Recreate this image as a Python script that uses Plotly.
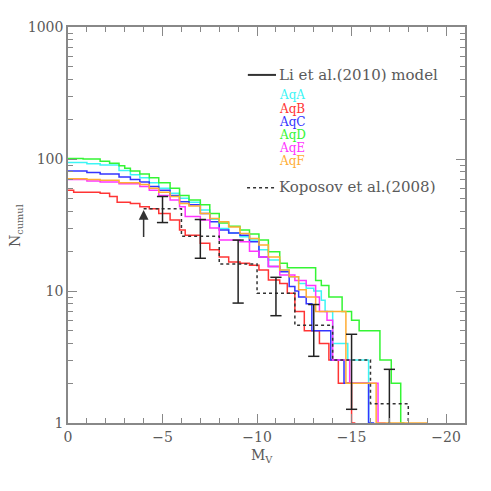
import math

import plotly.graph_objects as go

# Li et al. (2010) model curves: cumulative counts vs absolute magnitude (step points)
aqa_mv = [0, -1.0, -1.7, -2.7, -3.3, -3.8, -4.3, -4.8, -5.4, -5.9, -6.4, -7.0, -7.5, -8.0, -8.5,
          -9.1, -9.6, -10.1, -10.6, -11.2, -11.7, -12.2, -12.6, -13.0, -13.4, -13.6, -14.0, -14.8,
          -15.9, -16.1]
aqa_n = [94, 92, 90, 82, 76, 72, 66, 60, 55, 50.5, 47, 41, 35, 29.8, 27.5,
         25.8, 24.3, 20.5, 17.2, 14.4, 12.8, 11.4, 10.5, 10, 8.5, 7, 4, 3,
         1, 1]

aqb_mv = [0, -0.3, -1.7, -2.2, -2.6, -3.3, -3.8, -4.3, -4.8, -5.4, -5.9, -6.2, -7.0, -7.5, -8.0,
          -8.5, -9.1, -9.6, -10.1, -10.6, -11.2, -11.6, -12.0, -12.5, -13.3, -13.8, -14.3, -15.0,
          -15.2]
aqb_n = [58, 56, 55, 52, 47, 46, 43.5, 42, 38.6, 34.5, 29, 26.5, 23, 20.5, 18.1,
         16.6, 16.2, 15.7, 14.4, 12.1, 11.4, 9.6, 7, 5, 4, 3, 2, 1,
         1]

aqc_mv = [0, -1.0, -1.7, -2.7, -3.3, -3.8, -4.3, -4.8, -5.4, -5.9, -6.4, -7.0, -7.5, -8.0, -8.5,
          -9.1, -9.6, -10.1, -10.6, -11.2, -11.7, -12.0, -12.2, -12.6, -12.9, -13.9, -14.6, -15.9,
          -16.2]
aqc_n = [81, 79, 77, 73, 70, 67, 62, 58, 53, 47.4, 45, 38.6, 33.5, 29, 27.5,
         26.5, 23.6, 18.1, 15.3, 14, 10.8, 10, 9, 8, 5, 3, 2, 1,
         1]

aqd_mv = [0, -0.8, -1.7, -2.2, -2.7, -3.0, -3.3, -3.8, -4.3, -4.8, -5.4, -5.9, -6.4, -7.0, -7.5,
          -8.0, -8.5, -9.1, -9.6, -10.1, -10.6, -11.2, -11.6, -13.1, -13.4, -13.8, -14.5, -15.0,
          -15.4, -16.5, -17.1, -17.6, -17.8]
aqd_n = [101, 100, 96, 93, 89, 85, 81, 77, 72, 66, 60, 53, 49, 45, 38.6,
         32.7, 31, 29, 27, 24.3, 19.8, 16.2, 15, 12, 11, 9, 7, 6,
         5, 3, 2, 1, 1]

aqe_mv = [0, -1.0, -1.7, -2.7, -3.8, -4.3, -4.8, -5.4, -5.9, -6.2, -7.0, -7.5, -8.0, -9.1, -9.6,
          -10.1, -10.6, -11.2, -12.0, -12.6, -13.1, -13.3, -13.7, -14.0, -14.9, -16.4, -16.8]
aqe_n = [70, 68, 67, 65, 62, 58, 53, 49, 43.5, 36.6, 34.5, 30, 24.3, 23.6, 20,
         18.1, 15.3, 13.2, 12, 11, 9, 7, 6, 3, 2, 1, 1]

aqf_mv = [0, -1.0, -1.7, -2.7, -3.8, -4.3, -4.8, -5.4, -5.9, -6.4, -7.0, -7.5, -8.0, -8.5, -9.1,
          -9.6, -10.1, -10.6, -11.2, -11.7, -12.2, -12.6, -13.1, -14.7, -16.3, -19.0]
aqf_n = [71, 70, 69, 66, 64, 60, 56, 52, 46, 44, 38.6, 35.4, 33.5, 30.6, 27.3,
         25, 22.3, 18.1, 14.4, 12.8, 10.2, 9, 7, 2, 1, 1]

# Koposov et al. (2008) luminosity function
kop_mv = [-4, -6, -8, -10, -12, -14, -16, -18]
kop_n = [42, 26, 16, 9.6, 5.5, 3, 1.4, 0.5]

# model scatter (error bars)
err_mv = [-5, -7, -9, -11, -13, -15, -17]
err_lo = [33, 17.7, 8.1, 6.5, 3.2, 1.27, 1.0]
err_hi = [52, 34.8, 24.3, 12.7, 7.9, 4.7, 2.55]

# arrow marking the Koposov completeness limit
arrow_mv = -4
arrow_from = 25
arrow_to = 41

series = [
    ("AqA", aqa_mv, aqa_n, "#3cf5f5"),
    ("AqB", aqb_mv, aqb_n, "#ff3434"),
    ("AqC", aqc_mv, aqc_n, "#3434ff"),
    ("AqD", aqd_mv, aqd_n, "#34f534"),
    ("AqE", aqe_mv, aqe_n, "#ff34ff"),
    ("AqF", aqf_mv, aqf_n, "#ffad34"),
]

ink = "#5a5a5a"
frame = "#888888"
font_family = "DejaVu Serif"

fig = go.Figure()

for name, mv, n, color in series:
    fig.add_trace(go.Scatter(
        x=mv, y=n, mode="lines", name=name,
        line={"color": color, "width": 1.5, "shape": "hv"},
    ))

fig.add_trace(go.Scatter(
    x=kop_mv, y=kop_n, mode="lines", name="Koposov",
    line={"color": "#333333", "width": 1.5, "dash": "dot", "shape": "hv"},
))

bar_x, bar_y = [], []
for m, lo, hi in zip(err_mv, err_lo, err_hi):
    bar_x += [m, m, None]
    bar_y += [lo, hi, None]
fig.add_trace(go.Scatter(
    x=bar_x, y=bar_y, mode="lines",
    line={"color": "#222222", "width": 1.5},
))
fig.add_trace(go.Scatter(
    x=err_mv + err_mv[:-1], y=err_hi + err_lo[:-1], mode="markers",
    marker={"symbol": "line-ew", "size": 8, "line": {"color": "#222222", "width": 1.5}},
))

axis_common = dict(
    showline=True, linecolor=frame, linewidth=1.5, mirror="ticks",
    ticks="inside", tickcolor=frame, tickwidth=1.2, ticklen=9,
    showgrid=False, zeroline=False,
    tickfont={"family": font_family, "size": 14, "color": ink},
)
fig.update_xaxes(
    range=[0, -21],
    tickvals=[0, -5, -10, -15, -20],
    ticktext=["0", "\u22125", "\u221210", "\u221215", "\u221220"],
    minor={"ticks": "inside", "dtick": 1, "ticklen": 5, "tickcolor": frame, "showgrid": False},
    **axis_common,
)
fig.update_yaxes(
    type="log", range=[0, 3],
    tickvals=[1, 10, 100, 1000],
    ticktext=["1", "10", "100", "1000"],
    minor={"ticks": "inside", "dtick": "D1", "ticklen": 5, "tickcolor": frame, "showgrid": False},
    **axis_common,
)

annotations = [
    dict(xref="x", yref="y", axref="x", ayref="y",
         x=arrow_mv, y=math.log10(arrow_to), ax=arrow_mv, ay=math.log10(arrow_from),
         showarrow=True, arrowhead=2, arrowsize=1.3, arrowwidth=1.5, arrowcolor="#333333", text=""),
    dict(xref="paper", yref="paper", x=-0.131, y=0.5, xanchor="center", yanchor="middle",
         textangle=-90, text="N<sub>cumul</sub>", showarrow=False,
         font={"family": font_family, "size": 14, "color": ink}),
    dict(xref="paper", yref="paper", x=0.489, y=-0.083, xanchor="center", yanchor="middle",
         text="M<sub>V</sub>", showarrow=False,
         font={"family": font_family, "size": 14, "color": ink}),
    dict(xref="paper", yref="paper", x=0.526, y=0.879, xanchor="left", yanchor="middle",
         text="Li et al.(2010) model", showarrow=False,
         font={"family": font_family, "size": 15, "color": ink}),
    dict(xref="paper", yref="paper", x=0.526, y=0.596, xanchor="left", yanchor="middle",
         text="Koposov et al.(2008)", showarrow=False,
         font={"family": font_family, "size": 15, "color": ink}),
]
label_y = [0.828, 0.794, 0.761, 0.727, 0.694, 0.662]
for (name, _, _, color), ly in zip(series, label_y):
    annotations.append(dict(
        xref="paper", yref="paper", x=0.526, y=ly, xanchor="left", yanchor="middle",
        text=name, showarrow=False,
        font={"family": font_family, "size": 12, "color": color},
    ))

# the page adds an 8 px body margin, so the figure is 8 px smaller than the window
fig.update_layout(
    width=483, height=483,
    margin={"l": 60, "r": 26, "t": 19, "b": 68},
    paper_bgcolor="white", plot_bgcolor="white",
    showlegend=False,
    annotations=annotations,
    shapes=[
        dict(type="line", xref="paper", yref="paper", x0=0.453, x1=0.524, y0=0.879, y1=0.879,
             line={"color": "#333333", "width": 2}),
        dict(type="line", xref="paper", yref="paper", x0=0.451, x1=0.524, y0=0.594, y1=0.594,
             line={"color": "#333333", "width": 1.5, "dash": "dot"}),
    ],
)

fig.write_html("out.html")
